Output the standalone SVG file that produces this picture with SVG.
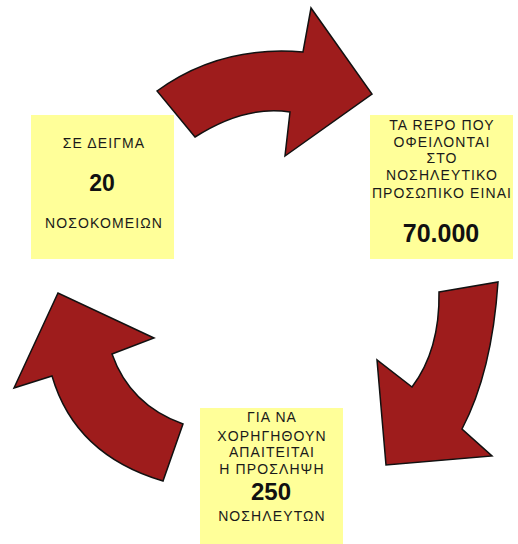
<svg xmlns="http://www.w3.org/2000/svg" width="518" height="544" viewBox="0 0 518 544">
<style>
.box{fill:#ffff99;}
.t{font-family:"Liberation Sans",Arial,sans-serif;font-size:14px;letter-spacing:1.1px;fill:#1a1a1a;text-anchor:middle;}
.b{font-family:"Liberation Sans",Arial,sans-serif;font-weight:bold;fill:#111;text-anchor:middle;}
.arrow{fill:#9e1c1c;stroke:#111;stroke-width:1.5;stroke-linejoin:miter;}
</style>
<rect width="518" height="544" fill="#ffffff"/>
<g id="connectors">
<path class="arrow" d="M157,91 Q220,45 303,52 L311,8 L372,94 L285,156 L290,112 Q245,105 195,137 Z"/>
<path class="arrow" d="M439,292 L498,282 Q492,372 462,429 L492,456 L386,465 L377,360 L412,387 Q440,350 439,292 Z"/>
<path class="arrow" d="M163,481 Q75,455 52,376 L14,388 L58,293 L154,338 L112,354 Q130,405 183,424 Z"/>
</g>
<g id="node-sample">
<rect class="box" x="31" y="115" width="143" height="144"/>
<text class="t" x="104" y="148">ΣΕ  ΔΕΙΓΜΑ</text>
<text class="b" x="102" y="191" font-size="23">20</text>
<text class="t" x="104" y="228">ΝΟΣΟΚΟΜΕΙΩΝ</text>
</g>
<g id="node-repo">
<rect class="box" x="370" y="115" width="143" height="144"/>
<text class="t" x="442" y="130">ΤΑ REPO ΠΟΥ</text>
<text class="t" x="442" y="147">ΟΦΕΙΛΟΝΤΑΙ</text>
<text class="t" x="442" y="163">ΣΤΟ</text>
<text class="t" x="442" y="180">ΝΟΣΗΛΕΥΤΙΚΟ</text>
<text class="t" x="442" y="198">ΠΡΟΣΩΠΙΚΟ ΕΙΝΑΙ</text>
<text class="b" x="441" y="242" font-size="25">70.000</text>
</g>
<g id="node-hire">
<rect class="box" x="200" y="408" width="143" height="136"/>
<text class="t" x="272" y="422">ΓΙΑ ΝΑ</text>
<text class="t" x="272" y="441">ΧΟΡΗΓΗΘΟΥΝ</text>
<text class="t" x="272" y="457">ΑΠΑΙΤΕΙΤΑΙ</text>
<text class="t" x="272" y="474">Η ΠΡΟΣΛΗΨΗ</text>
<text class="b" x="271" y="500" font-size="24">250</text>
<text class="t" x="272" y="521">ΝΟΣΗΛΕΥΤΩΝ</text>
</g>
</svg>
